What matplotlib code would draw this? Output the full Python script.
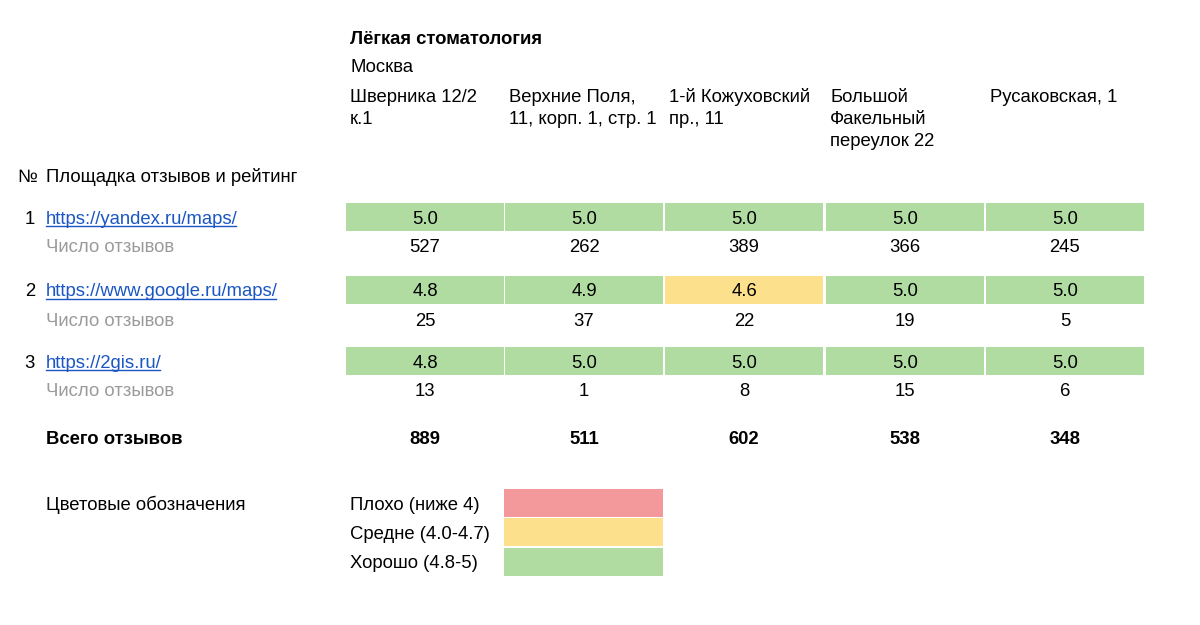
import matplotlib
matplotlib.use('Agg')
import matplotlib.pyplot as plt
from matplotlib.patches import Rectangle

plt.rcParams['font.family'] = ['Liberation Sans', 'DejaVu Sans']

clinic = 'Лёгкая стоматология'
city = 'Москва'
addresses = [['Шверника 12/2', 'к.1'], ['Верхние Поля,', '11, корп. 1, стр. 1'],
             ['1-й Кожуховский', 'пр., 11'], ['Большой', 'Факельный', 'переулок 22'],
             ['Русаковская, 1']]
sites = ['https://yandex.ru/maps/', 'https://www.google.ru/maps/', 'https://2gis.ru/']
yandex_rating = [5.0, 5.0, 5.0, 5.0, 5.0]
yandex_count = [527, 262, 389, 366, 245]
google_rating = [4.8, 4.9, 4.6, 5.0, 5.0]
google_count = [25, 37, 22, 19, 5]
gis_rating = [4.8, 5.0, 5.0, 5.0, 5.0]
gis_count = [13, 1, 8, 15, 6]
totals = [889, 511, 602, 538, 348]
legend_labels = ['Плохо (ниже 4)', 'Средне (4.0-4.7)', 'Хорошо (4.8-5)']

RED, YELLOW, GREEN = '#f4999b', '#fde08c', '#b0dca2'
LINK = '#1a56c4'
GREY = '#9a9a9a'
FS = 13.3
BL = 6.5  # from visual centre of a line to its baseline, px


def rating_color(r):
    if r < 4.0:
        return RED
    if r < 4.8:
        return YELLOW
    return GREEN


def txt(x, y, s, **kw):
    # y is the visual centre of the line
    return ax.text(x, y + BL, s, fontsize=FS, va='baseline', **kw)


fig = plt.figure(figsize=(12, 6.25), dpi=100)
ax = fig.add_axes([0, 0, 1, 1])
ax.set_xlim(0, 1200)
ax.set_ylim(625, 0)
ax.axis('off')

col_left = [346, 505, 665, 826, 986]
col_w = 160

txt(350, 37, clinic, fontweight='bold')
txt(350, 66, city)
for x, lines in zip(col_left, addresses):
    for k, line in enumerate(lines):
        txt(x + 4, 95 + 22 * k, line)

txt(17, 175, '№')
txt(46, 175, 'Площадка отзывов и рейтинг')

rows = [(yandex_rating, yandex_count, 217), (google_rating, google_count, 290),
        (gis_rating, gis_count, 361)]
for i, (site, (ratings, counts, y)) in enumerate(zip(sites, rows)):
    txt(35, y, str(i + 1), ha='right')
    link = txt(46, y, site, color=LINK)
    txt(46, y + 29, 'Число отзывов', color=GREY)
    for x, r, c in zip(col_left, ratings, counts):
        ax.add_patch(Rectangle((x, y - 14), col_w - 2, 28,
                               color=rating_color(r), lw=0))
        txt(x + col_w / 2 - 1, y, f'{r:.1f}', ha='center')
        txt(x + col_w / 2 - 1, y + 29, str(c), ha='center')
    # underline the link just below its baseline
    fig.canvas.draw()
    bb = link.get_window_extent()
    inv = ax.transData.inverted()
    x0 = inv.transform((bb.x0, 0))[0]
    x1 = inv.transform((bb.x1, 0))[0]
    ax.plot([x0, x1 - 2], [y + BL + 2.5] * 2, color=LINK, lw=1)

txt(46, 438, 'Всего отзывов', fontweight='bold')
for x, t in zip(col_left, totals):
    txt(x + col_w / 2 - 1, 438, str(t), fontweight='bold', ha='center')

txt(46, 503, 'Цветовые обозначения')
for j, (lab, c) in enumerate(zip(legend_labels, [RED, YELLOW, GREEN])):
    y = 503 + j * 29.3
    txt(350, y, lab)
    ax.add_patch(Rectangle((504, y - 14), 159, 28, color=c, lw=0))

fig.savefig('out.png', dpi=100, facecolor='white')
